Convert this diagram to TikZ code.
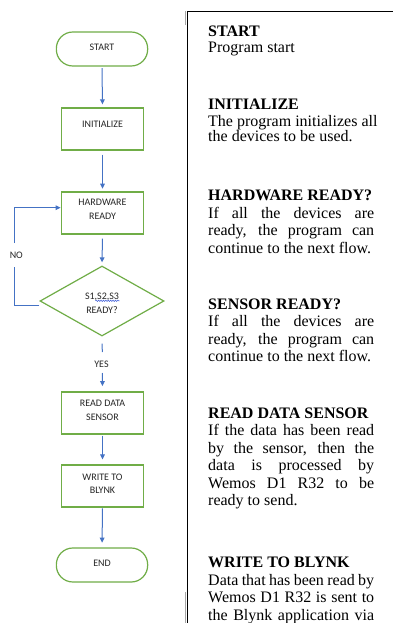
\documentclass[tikz,border=0pt]{standalone}
\usepackage{fontspec}
\setmainfont{Liberation Serif}
\newfontfamily\calib{Carlito}
\usetikzlibrary{arrows.meta,shapes.geometric,decorations.pathmorphing,calc}
\definecolor{fgreen}{HTML}{70AD47}
\definecolor{fblue}{HTML}{4472C4}
\definecolor{ftext}{HTML}{262626}
\definecolor{squigc}{HTML}{3B5BD9}
\newcommand{\jline}[1]{\makebox[166pt][s]{#1}}
\begin{document}
\begin{tikzpicture}[x=1pt,y=-1pt,
  shapeln/.style={draw=fgreen, line width=1.2pt, inner sep=0pt},
  procbox/.style={shapeln, rectangle, minimum width=82.6pt, minimum height=42pt},
  termbox/.style={shapeln, rectangle, rounded corners=16.5pt, minimum width=91.3pt, minimum height=34pt},
  decbox/.style={shapeln, diamond, minimum width=124pt, minimum height=70pt},
  ftxt/.style={anchor=base, inner sep=0pt, text=ftext, font=\calib\fontsize{10}{12}\selectfont},
  flow/.style={draw=fblue, line width=1pt},
  arr/.style={flow, -{Triangle[length=5pt,width=4.6pt]}},
  ptxt/.style={anchor=base west, inner sep=0pt, font=\fontsize{16}{19}\selectfont},
  phead/.style={anchor=base west, inner sep=0pt, font=\fontsize{16}{19}\selectfont\bfseries},
  panel/.style={draw=black, line width=1.5pt},
  ghost/.style={draw=black!35, line width=0.8pt},
  squig/.style={draw=squigc, line width=0.5pt, decorate, decoration={snake, segment length=2.4pt, amplitude=0.7pt}},
]
\useasboundingbox[fill=white] (0,0) rectangle (393,623);

% ---------- flowchart shapes ----------
\node[termbox] (start) at (102,49) {};
\node[procbox] (init) at (102.5,129) {};
\node[procbox] (hw) at (102.5,213) {};
\node[decbox] (dia) at (102,301) {};
\node[procbox] (read) at (102.5,413) {};
\node[procbox] (write) at (102.5,486) {};
\node[termbox] (end) at (102,565) {};

% ---------- flowchart texts ----------
\node[ftxt] (tstart) at (102,50.7) {START};
\node[ftxt] (tinit) at (102.5,127.3) {INITIALIZE};
\node[ftxt] (thw1) at (102.5,205.7) {HARDWARE};
\node[ftxt] (thw2) at (102.5,219) {READY};
\node[ftxt] (tdia1) at (102,299.3) {S1,S2,S3};
\node[ftxt] (tdia2) at (102,313.3) {READY?};
\node[ftxt] (tread1) at (102.5,406.7) {READ DATA};
\node[ftxt] (tread2) at (102.5,420) {SENSOR};
\node[ftxt] (twrite1) at (102.5,480) {WRITE TO};
\node[ftxt] (twrite2) at (102.5,493.3) {BLYNK};
\node[ftxt] (tend) at (102,566.7) {END};
\node[ftxt] (tyes) at (101.5,367.3) {YES};
\node[ftxt] (tno) at (16.3,258.3) {NO};
\draw[squig] (95.5,300.8) -- (119.5,300.8);

% ---------- connectors ----------
\draw[arr, shorten <=1.5pt, shorten >=3pt] (start.south) -- (init.north);
\draw[arr, shorten <=4pt, shorten >=2.7pt] (init.south) -- (hw.north);
\draw[arr, shorten <=4pt, shorten >=3pt] (hw.south) -- (dia.north);
\coordinate (ya) at (102.3,352);
\coordinate (yb) at (102.3,373);
\draw[flow, shorten <=7pt] (dia.south) -- (ya);
\draw[arr, shorten >=5.3pt] (yb) -- (read.north);
\draw[arr, shorten <=1pt, shorten >=5pt] (read.south) -- (write.north);
\draw[arr, shorten <=0.7pt, shorten >=4.7pt] (write.south) -- (end.north);
\coordinate (nA) at (14,305);
\coordinate (nB) at (14,267);
\coordinate (nC) at (14,243);
\coordinate (nD) at (14,207.7);
\draw[flow] ($(dia.west)+(0,4)$) -- (nA) -- (nB);
\draw[arr] (nC) -- (nD) -- (hw.west |- nD);

% ---------- description panel ----------
\coordinate (pc) at (187.5,11.5);
\coordinate (pr) at (396,11.5);
\coordinate (pb) at (187.5,626);
\draw[panel] (pb) -- (pc);
\draw[panel] (186.8,11.5) -- (pr);
\draw[ghost] (185.8,11.5) -- (185.8,25);
\draw[ghost] (185.6,592) -- (185.6,623);

\node[phead] (p1) at (208,36.5) {START};
\node[ptxt] (p2) at (208,52.5) {Program start};
\node[phead] (p3) at (208,110) {INITIALIZE};
\node[ptxt] (p4) at (208,126) {The program initializes all};
\node[ptxt] (p5) at (208,141.7) {the devices to be used.};
\node[phead] (p6) at (208,200) {HARDWARE READY?};
\node[ptxt] (p7) at (208,218) {\jline{If all the devices are}};
\node[ptxt] (p8) at (208,235.5) {\jline{ready, the program can}};
\node[ptxt] (p9) at (208,253) {continue to the next flow.};
\node[phead] (p10) at (208,309) {SENSOR READY?};
\node[ptxt] (p11) at (208,326.5) {\jline{If all the devices are}};
\node[ptxt] (p12) at (208,344) {\jline{ready, the program can}};
\node[ptxt] (p13) at (208,361.5) {continue to the next flow.};
\node[phead] (p14) at (208,418.3) {READ DATA SENSOR};
\node[ptxt] (p15) at (208,435.7) {\jline{If the data has been read}};
\node[ptxt] (p16) at (208,453.3) {\jline{by the sensor, then the}};
\node[ptxt] (p17) at (208,470.7) {\jline{data is processed by}};
\node[ptxt] (p18) at (208,488.3) {\jline{Wemos D1 R32 to be}};
\node[ptxt] (p19) at (208,505.7) {ready to send.};
\node[phead] (p20) at (208,567.5) {WRITE TO BLYNK};
\node[ptxt] (p21) at (208,585) {\jline{Data that has been read by}};
\node[ptxt] (p22) at (208,602.5) {\jline{Wemos D1 R32 is sent to}};
\node[ptxt] (p23) at (208,620.5) {\jline{the Blynk application via}};
\end{tikzpicture}
\end{document}
